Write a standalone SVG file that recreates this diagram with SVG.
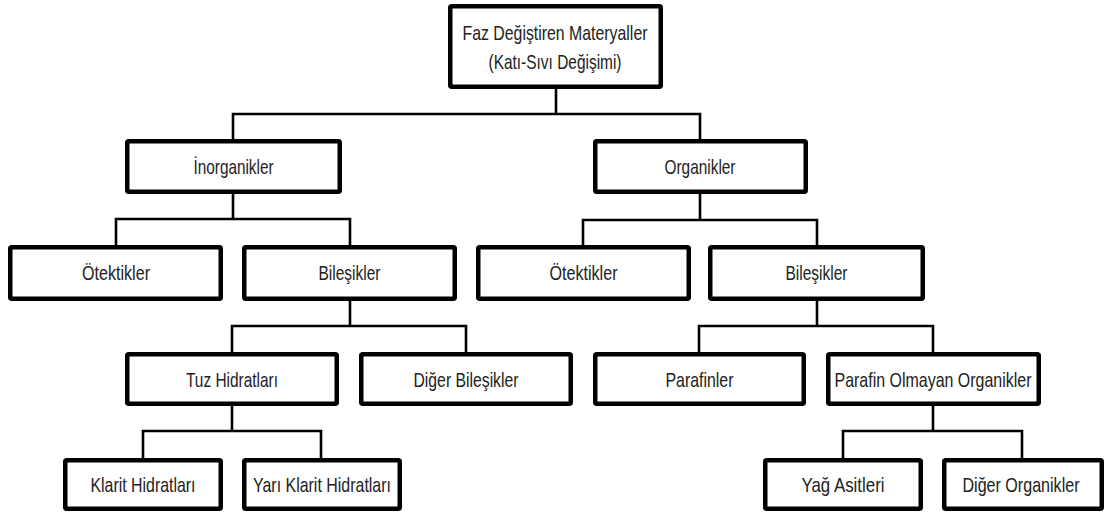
<svg xmlns="http://www.w3.org/2000/svg" width="1111" height="513" viewBox="0 0 1111 513">
<style>
.box{fill:#fff;stroke:#000;stroke-width:4.5;}
.t{font-family:"Liberation Sans",Arial,sans-serif;font-size:21px;fill:#222;text-anchor:middle;}
.c{fill:none;stroke:#000;stroke-width:2.6;stroke-linejoin:miter;stroke-linecap:square;}
</style>
<rect width="1111" height="513" fill="#fff"/>
<g id="connectors">
<path class="c" d="M556,89V114M233,139V114H700V139"/>
<path class="c" d="M233,194V219M116,245V219H350V245"/>
<path class="c" d="M700,194V220M583,245V220H817V245"/>
<path class="c" d="M350,301V326M232,352V326H466V352"/>
<path class="c" d="M817,301V326M699,352V326H933V352"/>
<path class="c" d="M232,406V431M143,458V431H321V458"/>
<path class="c" d="M933,406V431M843,458V431H1022V458"/>
</g>
<g id="n_root"><rect class="box" x="450.25" y="6.25" width="210.5" height="80.5" rx="1.5"/>
<text class="t" x="555" y="40" textLength="185" lengthAdjust="spacingAndGlyphs">Faz Değiştiren Materyaller</text>
<text class="t" x="555" y="69" textLength="133" lengthAdjust="spacingAndGlyphs">(Katı-Sıvı Değişimi)</text></g>
<g id="n_inorganikler"><rect class="box" x="127.25" y="141.25" width="212.5" height="50.5" rx="1.5"/>
<text class="t" x="233.5" y="174" textLength="80" lengthAdjust="spacingAndGlyphs">İnorganikler</text></g>
<g id="n_organikler"><rect class="box" x="595.25" y="141.25" width="210.5" height="50.5" rx="1.5"/>
<text class="t" x="700" y="174" textLength="71" lengthAdjust="spacingAndGlyphs">Organikler</text></g>
<g id="n_otektikler_i"><rect class="box" x="10.25" y="247.25" width="210.5" height="51.5" rx="1.5"/>
<text class="t" x="116" y="280" textLength="68" lengthAdjust="spacingAndGlyphs">Ötektikler</text></g>
<g id="n_bilesikler_i"><rect class="box" x="244.25" y="247.25" width="210.5" height="51.5" rx="1.5"/>
<text class="t" x="349.5" y="280" textLength="62" lengthAdjust="spacingAndGlyphs">Bileşikler</text></g>
<g id="n_otektikler_o"><rect class="box" x="478.25" y="247.25" width="210.5" height="51.5" rx="1.5"/>
<text class="t" x="583.5" y="280" textLength="68" lengthAdjust="spacingAndGlyphs">Ötektikler</text></g>
<g id="n_bilesikler_o"><rect class="box" x="710.25" y="247.25" width="212.5" height="51.5" rx="1.5"/>
<text class="t" x="816.5" y="280" textLength="62" lengthAdjust="spacingAndGlyphs">Bileşikler</text></g>
<g id="n_tuz"><rect class="box" x="127.25" y="354.25" width="209.5" height="49.5" rx="1.5"/>
<text class="t" x="232" y="387" textLength="92" lengthAdjust="spacingAndGlyphs">Tuz Hidratları</text></g>
<g id="n_diger_bilesikler"><rect class="box" x="361.25" y="354.25" width="209.5" height="49.5" rx="1.5"/>
<text class="t" x="466" y="387" textLength="105" lengthAdjust="spacingAndGlyphs">Diğer Bileşikler</text></g>
<g id="n_parafinler"><rect class="box" x="595.25" y="354.25" width="208.5" height="49.5" rx="1.5"/>
<text class="t" x="699.5" y="387" textLength="68" lengthAdjust="spacingAndGlyphs">Parafinler</text></g>
<g id="n_parafin_olmayan"><rect class="box" x="828.25" y="354.25" width="210.5" height="49.5" rx="1.5"/>
<text class="t" x="933" y="387" textLength="197" lengthAdjust="spacingAndGlyphs">Parafin Olmayan Organikler</text></g>
<g id="n_klarit"><rect class="box" x="65.25" y="460.25" width="155.5" height="48.5" rx="1.5"/>
<text class="t" x="143" y="492" textLength="105" lengthAdjust="spacingAndGlyphs">Klarit Hidratları</text></g>
<g id="n_yari_klarit"><rect class="box" x="244.25" y="460.25" width="155.5" height="48.5" rx="1.5"/>
<text class="t" x="322" y="492" textLength="138" lengthAdjust="spacingAndGlyphs">Yarı Klarit Hidratları</text></g>
<g id="n_yag"><rect class="box" x="765.25" y="460.25" width="155.5" height="48.5" rx="1.5"/>
<text class="t" x="843" y="492" textLength="83" lengthAdjust="spacingAndGlyphs">Yağ Asitleri</text></g>
<g id="n_diger_organikler"><rect class="box" x="944.25" y="460.25" width="157.5" height="48.5" rx="1.5"/>
<text class="t" x="1021" y="492" textLength="117" lengthAdjust="spacingAndGlyphs">Diğer Organikler</text></g>
</svg>
